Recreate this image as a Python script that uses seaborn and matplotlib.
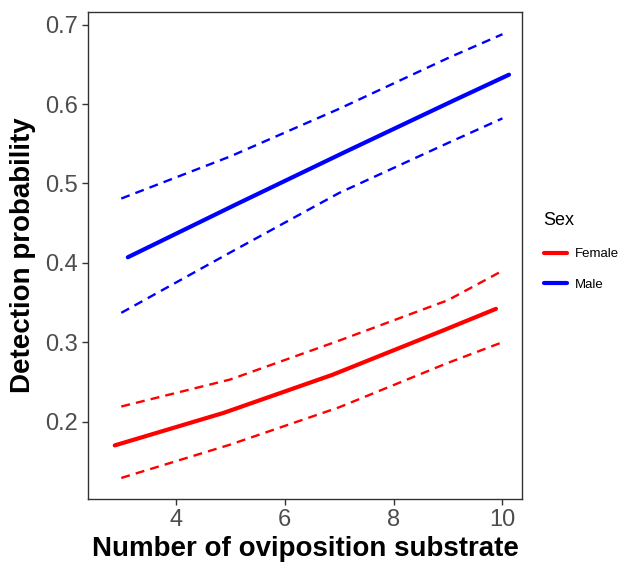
import numpy as np
import pandas as pd
import matplotlib
matplotlib.use("Agg")
import matplotlib.pyplot as plt
import seaborn as sns
from matplotlib.lines import Line2D

#================================資料===============================
# 預測值 (solid line)
female_x = [2.88, 4.88, 6.88, 8.88, 9.88]
female_fit = [0.170, 0.211, 0.259, 0.314, 0.342]
male_x = [3.12, 5.12, 7.12, 9.12, 10.12]
male_fit = [0.407, 0.474, 0.540, 0.605, 0.637]

# 信賴區間 (dashed lines)
ci_x = [3, 5, 7, 9, 10]
female_low = [0.129, 0.171, 0.218, 0.274, 0.300]
female_up = [0.219, 0.253, 0.302, 0.353, 0.390]
male_low = [0.337, 0.413, 0.488, 0.551, 0.582]
male_up = [0.481, 0.534, 0.594, 0.658, 0.688]

sex_levels = ["Female", "Male"]
palette = {"Female": "#FF0000", "Male": "#0000FF"}
#===================================================================

fit_df = pd.DataFrame({
    "x": female_x + male_x,
    "y": female_fit + male_fit,
    "Sex": ["Female"] * len(female_x) + ["Male"] * len(male_x),
})
ci_df = pd.DataFrame({
    "x": ci_x * 4,
    "y": female_low + female_up + male_low + male_up,
    "Sex": ["Female"] * 10 + ["Male"] * 10,
    "bound": ["low"] * 5 + ["up"] * 5 + ["low"] * 5 + ["up"] * 5,
})
ci_df["grp"] = ci_df["Sex"] + "_" + ci_df["bound"]

sns.set_style("white")
plt.rcParams["font.family"] = ["Liberation Sans", "DejaVu Sans"]

fig = plt.figure(figsize=(6.29, 5.63), dpi=100)
ax = fig.add_axes([0.140, 0.1137, 0.690, 0.865])

# 信賴區間虛線
for g, sub in ci_df.groupby("grp"):
    sns.lineplot(data=sub, x="x", y="y", color=palette[sub["Sex"].iloc[0]],
                 estimator=None, linewidth=1.7, ax=ax, legend=False)
for line in ax.lines:
    line.set_dashes((3.8, 2.6))

# 預測實線
sns.lineplot(data=fit_df, x="x", y="y", hue="Sex", hue_order=sex_levels,
             palette=palette, estimator=None, linewidth=3, ax=ax, legend=False)

ax.set_xlim(2.39, 10.36)
ax.set_ylim(0.1025, 0.716)
ax.set_xticks([4, 6, 8, 10])
ax.set_yticks([0.2, 0.3, 0.4, 0.5, 0.6, 0.7])
ax.set_yticklabels(["0.2", "0.3", "0.4", "0.5", "0.6", "0.7"])

for s in ax.spines.values():
    s.set_color("#333333")
    s.set_linewidth(1.0)
ax.tick_params(axis="both", direction="out", length=4, width=1, color="#333333",
               labelsize=17, labelcolor="#4D4D4D", pad=3, bottom=True, left=True)

ax.set_xlabel("Number of oviposition substrate", fontsize=20, fontweight="bold",
              labelpad=4, color="black")
ax.set_ylabel("Detection probability", fontsize=20, fontweight="bold",
              labelpad=7, color="black")

# 圖例
handles = [Line2D([0], [0], color=palette[s], linewidth=3) for s in sex_levels]
leg = fig.legend(handles, sex_levels, title="Sex", loc="center left",
                 bbox_to_anchor=(0.856, 0.553), frameon=False, fontsize=9.5,
                 title_fontsize=13, handlelength=1.8, handletextpad=0.6,
                 labelspacing=1.4, borderaxespad=0)
leg._legend_box.align = "left"
leg.get_title().set_color("black")
for t in leg.get_texts():
    t.set_color("black")

fig.savefig("out.png", dpi=100)
plt.close()
